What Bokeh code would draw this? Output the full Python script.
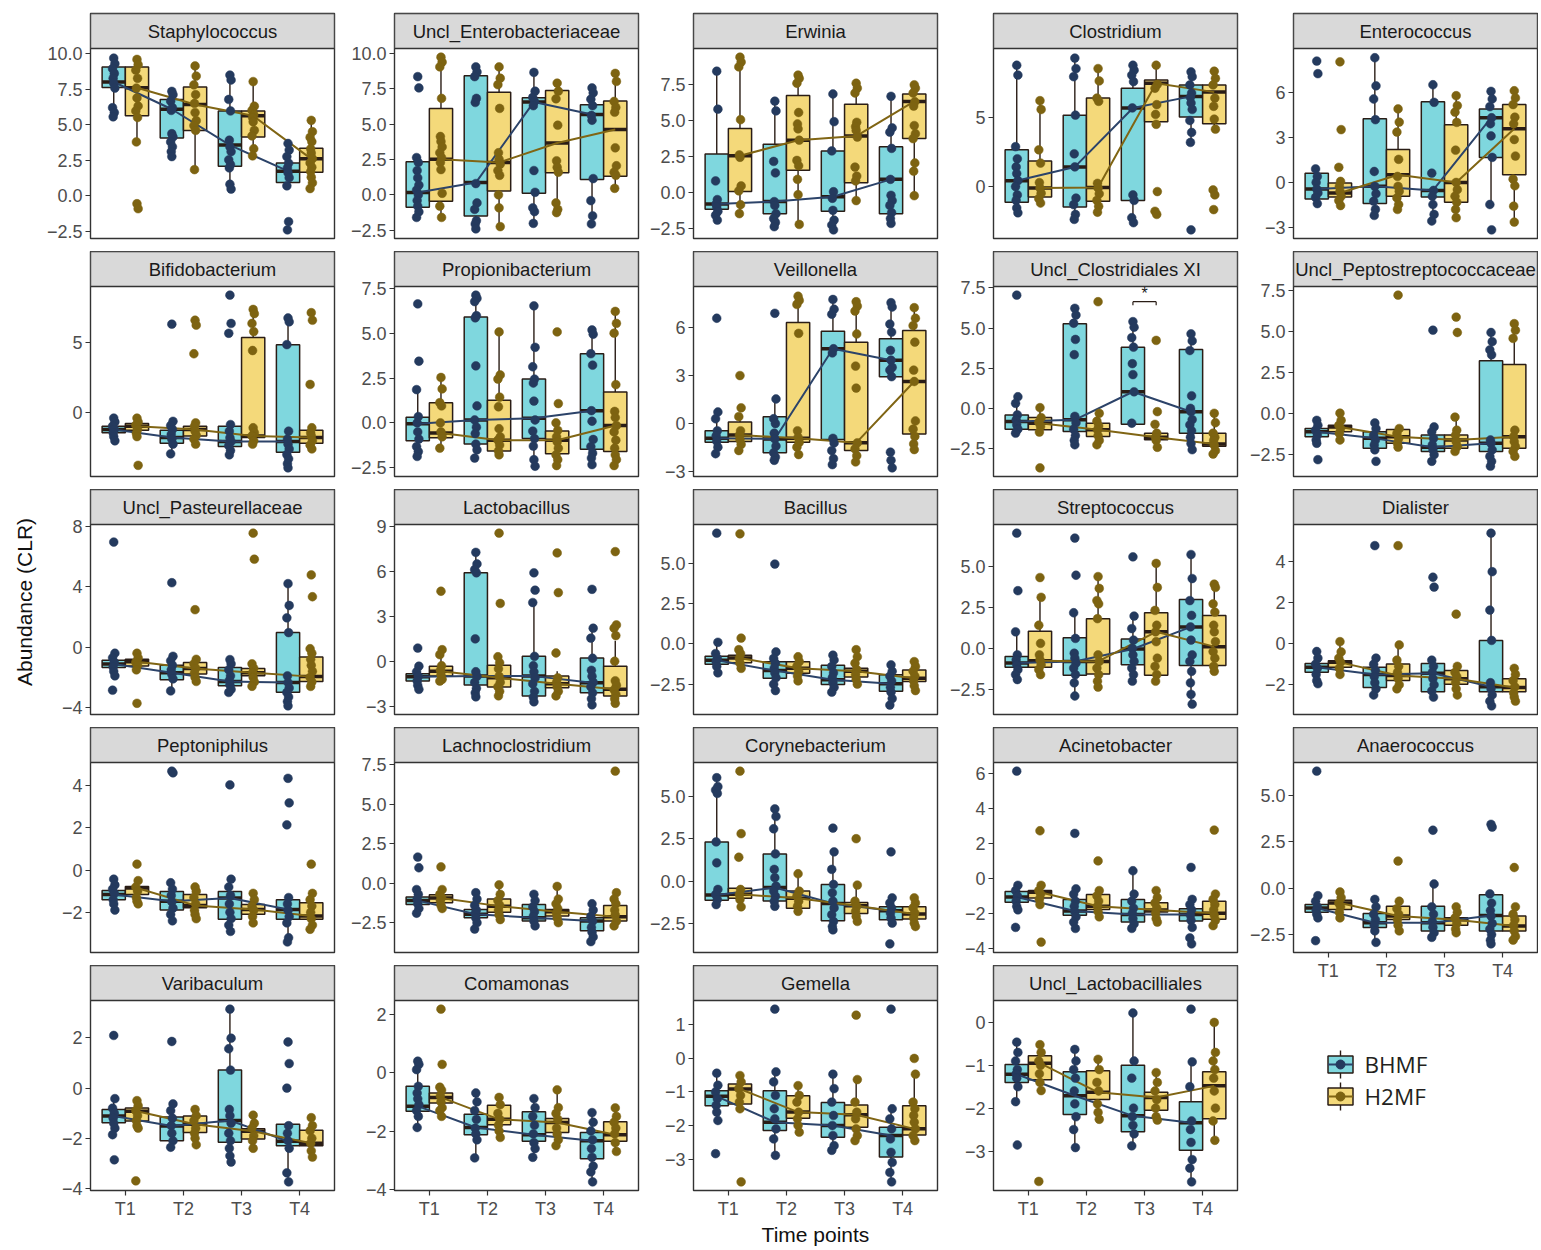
from bokeh.plotting import figure
from bokeh.models import Range1d, FixedTicker, ColumnDataSource, PrintfTickFormatter
from bokeh.layouts import row, column
from bokeh.embed import file_html
from bokeh.resources import INLINE
from bokeh.core.properties import value

TIMES = ["T1", "T2", "T3", "T4"]
GROUPS = ["BHMF", "H2MF"]
Y_TITLE = "Abundance (CLR)"
X_TITLE = "Time points"

# box stats per time point: (lower whisker, Q1, median, Q3, upper whisker); points per time point
staph_box_b = [(5.55, 7.61, 8.0, 9.06, 9.75), (2.75, 4.06, 6.08, 6.77, 7.57), (0.34, 2.06, 3.56, 5.96, 8.6), (0.69, 0.92, 1.72, 2.29, 3.67)]
staph_box_h = [(3.8, 5.62, 7.6, 9.06, 9.6), (1.83, 4.59, 6.42, 7.64, 9.17), (2.52, 4.13, 5.62, 5.96, 8.03), (0.34, 1.65, 2.59, 3.33, 5.39)]
staph_pts_b = [[9.68, 9.29, 8.94, 8.6, 8.26, 7.91, 7.57, 6.19, 5.85, 5.55], [7.34, 7.11, 6.65, 6.19, 6.0, 4.36, 4.13, 3.78, 3.44, 3.1, 2.75], [8.49, 8.14, 6.77, 5.96, 3.9, 3.44, 3.1, 2.52, 2.18, 1.95, 0.8, 0.46], [3.67, 3.21, 2.75, 2.29, 1.95, 1.61, 1.26, 0.69, -1.83, -2.41]]
staph_pts_h = [[9.59, 9.22, 8.83, 8.26, 7.57, 6.88, 6.31, 5.96, 5.5, 3.78, -0.57, -0.92], [9.13, 8.42, 7.8, 7.11, 6.49, 5.85, 5.28, 4.93, 4.59, 1.83], [8.03, 6.3, 6.0, 5.7, 5.5, 5.2, 4.6, 4.2, 3.3, 2.8], [5.3, 4.5, 4.1, 3.8, 3.3, 3.0, 2.6, 2.3, 2.0, 1.7, 1.3, 0.9, 0.5]]
staph_ticks = [-2.5, 0, 2.5, 5, 7.5, 10]

enterob_box_b = [(-1.6, -0.87, 0.16, 2.34, 2.64), (-2.48, -1.49, 0.87, 8.44, 9.06), (-2.06, 0.11, 6.58, 6.88, 8.67), (-2.18, 1.08, 5.69, 6.38, 7.68)]
enterob_box_h = [(-1.6, -0.46, 2.52, 6.12, 9.75), (-2.25, 0.28, 2.29, 7.27, 9.06), (-1.26, 1.56, 3.67, 7.39, 7.91), (0.34, 1.31, 4.63, 6.65, 8.72)]
enterob_pts_b = [[8.37, 7.57, 2.64, 2.29, 1.72, 1.2, 0.69, 0.34, 0.0, -0.4, -0.8, -1.2, -1.6], [9.06, 8.7, 8.37, 6.83, 6.54, 0.8, -0.57, -1.03, -1.83, -2.06, -2.41], [8.67, 7.34, 6.9, 6.6, 6.31, 1.72, 0.18, -0.92, -1.19, -2.02], [7.57, 7.22, 6.77, 6.31, 5.62, 5.28, 1.15, -0.41, -1.49, -2.06]]
enterob_pts_h = [[9.75, 9.4, 9.06, 6.83, 4.13, 3.78, 3.39, 2.98, 2.64, 2.29, 1.79, 0.11, -0.8, -1.6], [9.06, 8.26, 7.8, 6.12, 2.98, 2.52, 2.18, 1.72, 1.38, 0.0, -0.92, -2.25], [7.91, 7.34, 6.8, 4.93, 2.41, 1.95, 1.6, -0.57, -1.03, -1.26], [8.6, 8.03, 6.61, 6.19, 5.85, 3.33, 2.06, 1.6, 1.38, 0.46]]
enterob_ticks = [-2.5, 0, 2.5, 5, 7.5, 10]

erwinia_box_b = [(-1.93, -1.18, -0.8, 2.68, 8.45), (-2.5, -1.48, -0.64, 3.36, 6.55), (-2.61, -1.32, -0.3, 2.89, 6.93), (-2.27, -1.48, 0.91, 3.18, 6.93)]
erwinia_box_h = [(-1.59, 0.07, 2.55, 4.45, 9.43), (-2.16, 1.55, 3.64, 6.75, 8.23), (-0.8, 0.68, 3.93, 6.14, 7.77), (-0.3, 3.75, 6.34, 6.86, 7.61)]
erwinia_pts_b = [[8.45, 5.8, 0.8, -0.5, -0.8, -1.02, -1.32, -1.59, -1.93], [6.36, 5.68, 2.16, 1.36, -0.64, -0.91, -1.48, -1.82, -2.09, -2.39], [6.86, 4.93, 2.89, 0.05, -0.41, -1.25, -1.93, -2.27, -2.61], [6.7, 4.5, 4.2, 3.07, 0.91, -0.2, -0.57, -0.91, -1.41, -1.82, -2.16]]
erwinia_pts_h = [[9.43, 9.09, 8.75, 5.07, 2.61, 2.45, 0.45, 0.11, -0.86, -1.48], [8.18, 7.95, 7.61, 5.57, 4.77, 4.43, 3.64, 2.23, 1.86, 0.91, -0.16, -2.23], [7.61, 7.27, 6.93, 4.89, 4.59, 4.32, 3.86, 1.77, 1.14, 0.8, -0.57], [7.5, 7.27, 6.93, 6.32, 6.02, 4.66, 4.09, 3.75, 2.05, 1.48, -0.23]]
erwinia_ticks = [-2.5, 0, 2.5, 5, 7.5]

clostr_box_b = [(-1.9, -1.14, 0.43, 2.67, 8.86), (-2.5, -1.48, 1.43, 5.19, 9.4), (-2.62, -1.0, 5.71, 7.14, 8.86), (3.21, 5.05, 6.55, 7.38, 8.33)]
clostr_box_h = [(-1.31, -0.76, -0.1, 1.86, 6.31), (-1.9, -1.07, -0.07, 6.43, 8.57), (4.52, 4.71, 7.5, 7.74, 8.81), (4.1, 4.57, 6.86, 7.38, 8.38)]
clostr_pts_b = [[8.81, 8.1, 2.9, 2.02, 1.43, 0.95, 0.43, 0.0, -0.6, -1.0, -1.55, -1.9], [9.33, 8.57, 7.98, 5.19, 2.38, 1.43, -0.83, -1.31, -2.02, -2.38], [8.81, 8.45, 8.1, 7.62, 5.71, -0.6, -1.0, -2.26, -2.62], [8.33, 7.98, 7.38, 6.79, 6.48, 6.07, 5.6, 4.8, 3.93, 3.21, -3.14]]
clostr_pts_h = [[6.24, 5.6, 2.67, 1.71, 0.29, -0.1, -0.48, -0.88, -1.19], [8.57, 7.67, 6.43, 6.19, 0.24, -0.1, -0.52, -1.0, -1.43, -1.86], [8.81, 7.43, 7.14, 5.95, 5.24, 4.52, -0.36, -1.79, -2.02], [8.38, 7.86, 7.38, 6.43, 5.83, 4.9, 4.17, -0.24, -0.6, -1.67]]
clostr_ticks = [0, 5]

enteroc_box_b = [(-1.47, -1.1, -0.44, 0.62, 0.95), (-2.42, -1.41, -0.26, 4.24, 8.35), (-2.57, -0.97, -0.53, 5.38, 6.55), (-1.47, 1.67, 4.31, 4.9, 6.11)]
enteroc_box_h = [(-1.54, -0.97, -0.7, -0.04, 0.07), (-1.8, -0.92, 0.51, 2.2, 5.01), (-2.57, -1.32, 0.0, 3.85, 5.89), (-2.68, 0.51, 3.58, 5.19, 6.11)]
enteroc_pts_b = [[8.09, 7.25, 0.9, 0.4, 0.0, -0.44, -0.7, -1.0, -1.41], [8.31, 6.44, 5.56, 4.18, 0.73, -0.26, -0.75, -1.25, -1.8, -2.2], [6.51, 5.34, 0.62, -0.53, -0.92, -1.47, -2.13, -2.57], [6.07, 5.56, 5.05, 4.31, 3.91, 3.1, 1.67, -1.47, -3.16]]
enteroc_pts_h = [[8.04, 3.52, 1.01, 0.07, -0.26, -0.59, -0.92, -1.21, -1.54], [4.9, 4.02, 3.36, 1.54, 0.4, -0.26, -0.59, -1.03, -1.47, -1.8], [5.78, 5.12, 4.68, 4.0, 2.15, 0.0, -0.48, -0.92, -1.32, -1.8, -2.35], [6.11, 5.63, 5.19, 4.35, 3.91, 2.86, 1.76, 0.22, -0.22, -1.58, -2.64]]
enteroc_ticks = [-3, 0, 3, 6]

bifido_box_b = [(-2.02, -1.44, -1.21, -0.98, -0.4), (-2.84, -2.19, -1.79, -1.26, -0.51), (-3.07, -2.42, -2.07, -0.98, -0.86), (-3.95, -2.84, -2.07, 4.84, 6.81)]
bifido_box_h = [(-1.67, -1.26, -0.98, -0.79, -0.4), (-2.26, -1.67, -1.21, -0.98, -0.74), (-2.37, -1.79, -1.67, 5.35, 7.4), (-2.6, -2.19, -1.79, -1.26, -1.09)]
bifido_pts_b = [[-0.4, -0.67, -0.98, -1.21, -1.44, -1.72, -2.02], [6.3, -0.63, -0.93, -1.21, -1.56, -1.91, -2.26, -2.95], [8.37, 6.35, 5.65, -0.86, -1.33, -1.8, -2.07, -2.37, -2.72, -3.02], [6.74, 6.47, 4.84, -1.33, -1.9, -2.26, -2.6, -3.0, -3.3, -3.65, -3.95]]
bifido_pts_h = [[-0.4, -0.67, -0.9, -1.21, -1.49, -1.72, -3.77], [6.58, 6.23, 4.19, -0.74, -0.98, -1.33, -1.63, -1.91, -2.26], [7.35, 7.05, 6.35, 5.77, 4.42, -1.09, -1.44, -1.67, -2.02, -2.26], [7.12, 6.58, 2.0, -1.09, -1.44, -1.67, -2.02, -2.33, -2.6]]
bifido_ticks = [0, 5]

propioni_box_b = [(-1.88, -1.0, -0.05, 0.31, 1.86), (-1.97, -1.19, 0.16, 5.93, 7.15), (-2.52, -0.88, 0.26, 2.45, 6.55), (-2.34, -1.48, 0.68, 3.87, 5.24)]
propioni_box_h = [(-1.42, -0.84, -0.57, 1.13, 2.54), (-1.88, -1.57, -0.97, 1.26, 5.09), (-2.52, -1.73, -0.97, -0.46, 0.04), (-2.43, -1.61, -0.15, 1.73, 6.24)]
propioni_pts_b = [[6.66, 3.45, 1.86, 0.35, 0.0, -0.51, -0.91, -1.33, -1.61, -1.88], [7.15, 6.97, 6.79, 6.0, 5.88, 3.19, 0.95, 0.16, -0.24, -0.6, -1.19, -1.51, -1.97], [6.55, 4.23, 3.14, 2.45, 2.23, 1.22, 0.16, -0.46, -0.88, -1.3, -2.06, -2.43], [5.2, 4.96, 3.87, 3.23, 0.68, 0.09, -0.93, -1.33, -1.7, -1.97, -2.34]]
propioni_pts_h = [[2.54, 1.9, 1.13, 0.95, 0.0, -0.51, -0.78, -1.42], [5.09, 2.68, 2.45, 1.44, 0.9, -0.33, -0.78, -0.97, -1.24, -1.57, -1.79], [5.09, 1.08, 0.0, -0.42, -0.78, -1.06, -1.42, -1.79, -2.06, -2.39], [6.24, 5.57, 5.02, 2.14, 0.64, 0.3, -0.15, -0.51, -0.97, -1.42, -1.79, -2.06, -2.39]]
propioni_ticks = [-2.5, 0, 2.5, 5, 7.5]

veill_box_b = [(-1.88, -1.17, -0.92, -0.45, 0.78), (-2.29, -1.82, -0.96, 0.43, 1.53), (-2.6, -1.0, 4.66, 5.75, 7.73), (2.92, 2.92, 3.95, 5.28, 7.53)]
veill_box_h = [(-1.78, -1.12, -0.72, 0.1, 0.47), (-1.98, -1.17, -0.92, 6.3, 8.0), (-2.39, -1.68, -1.2, 5.07, 7.59), (-1.62, -0.65, 2.62, 5.79, 7.22)]
veill_pts_b = [[6.56, 0.72, 0.3, -0.45, -0.76, -1.1, -1.47, -1.88], [6.87, 1.53, 0.3, 0.0, -0.6, -0.96, -1.4, -1.82, -2.09, -2.29], [7.73, 7.12, 6.81, 4.66, 4.4, -0.92, -1.21, -1.68, -2.19, -2.56], [7.53, 7.26, 6.2, 5.7, 4.56, 3.95, 3.5, 3.33, 2.92, -1.78, -2.29, -2.76]]
veill_pts_h = [[2.99, 0.98, 0.43, -0.45, -0.72, -1.0, -1.3, -1.68], [7.93, 7.67, 7.42, 5.62, -0.45, -0.86, -1.17, -1.47, -1.93], [7.59, 7.32, 7.01, 5.58, 3.58, 2.21, -1.2, -1.58, -2.0, -2.39], [7.22, 6.56, 6.1, 5.07, 3.33, 2.62, 0.16, -0.35, -0.8, -1.27, -1.62]]
veill_ticks = [-3, 0, 3, 6]

clostxi_box_b = [(-1.65, -1.3, -0.82, -0.41, 0.72), (-2.27, -1.44, -0.72, 5.26, 6.29), (-0.99, -0.99, 1.03, 3.81, 5.46), (-2.68, -1.55, -0.21, 3.67, 4.64)]
clostxi_box_h = [(-1.55, -1.34, -0.93, -0.58, 0.1), (-2.27, -1.75, -1.34, -0.93, -0.31), (-2.1, -1.96, -1.81, -1.55, -1.4), (-2.89, -2.37, -2.23, -1.55, -0.31)]
clostxi_pts_b = [[7.05, 0.72, 0.31, -0.41, -0.72, -1.03, -1.3, -1.55], [6.23, 5.81, 5.3, 4.29, 3.34, -0.5, -0.9, -1.3, -1.7, -2.0, -2.27], [5.4, 5.05, 4.4, 3.81, 2.78, 2.1, 1.03, -0.93], [4.64, 4.2, 3.6, 0.78, 0.0, -0.21, -0.7, -1.03, -1.4, -1.8, -2.2, -2.58]]
clostxi_pts_h = [[0.04, -0.58, -0.87, -1.13, -1.48, -3.71], [6.64, -0.31, -0.8, -1.1, -1.34, -1.7, -2.0, -2.27], [4.23, -0.21, -1.0, -1.55, -1.81, -2.0, -2.43], [-0.31, -0.9, -1.55, -1.8, -2.0, -2.3, -2.64, -2.85]]
clostxi_ticks = [-2.5, 0, 2.5, 5, 7.5]

pepto_box_b = [(-1.8, -1.4, -1.1, -0.9, -0.3), (-2.2, -2.1, -1.5, -1.1, -0.56), (-3.0, -2.3, -2.04, -1.3, -0.8), (-3.3, -2.3, -1.8, 3.24, 4.96)]
pepto_box_h = [(-1.6, -1.1, -0.8, -0.7, 0.1), (-2.04, -1.8, -1.4, -0.96, -0.9), (-2.3, -2.1, -1.6, -1.3, -0.2), (-2.6, -2.1, -1.4, 3.0, 5.6)]
pepto_pts_b = [[-0.4, -0.7, -1.0, -1.3, -1.6, -1.8, -2.8], [-0.56, -0.9, -1.3, -1.6, -1.9, -2.2, -2.9], [5.1, -0.8, -1.1, -1.5, -1.9, -2.2, -2.5, -2.9], [4.96, 4.4, 3.9, 3.6, -1.6, -1.8, -2.2, -2.6, -2.9, -3.2]]
pepto_pts_h = [[0.04, -0.4, -0.7, -0.9, -1.2, -1.6], [7.24, -0.9, -1.2, -1.5, -1.8, -2.04], [5.9, 4.96, -0.2, -1.0, -1.3, -1.7, -2.0, -2.3], [5.5, 5.1, 4.6, -1.0, -1.4, -1.7, -2.0, -2.3, -2.6]]
pepto_ticks = [-2.5, 0, 2.5, 5, 7.5]

pasteur_box_b = [(-1.95, -1.34, -1.12, -0.86, -0.32), (-2.98, -2.16, -1.69, -1.19, -0.54), (-3.07, -2.55, -2.27, -1.34, -0.82), (-3.89, -2.98, -2.34, 0.97, 4.22)]
pasteur_box_h = [(-1.62, -1.25, -0.97, -0.8, -0.32), (-2.27, -1.77, -1.41, -1.02, -0.8), (-2.59, -1.9, -1.69, -1.41, -1.08), (-2.64, -2.27, -1.95, -0.65, 0.0)]
pasteur_pts_b = [[6.98, -0.4, -0.7, -1.0, -1.3, -1.6, -1.9, -2.85], [4.28, -0.6, -0.9, -1.2, -1.5, -1.8, -2.1, -2.9], [-0.82, -1.1, -1.5, -1.9, -2.2, -2.5, -2.8, -3.0], [4.22, 2.77, 1.95, 0.97, -1.9, -2.34, -2.7, -3.0, -3.3, -3.6, -3.89]]
pasteur_pts_h = [[-0.4, -0.7, -1.0, -1.2, -1.5, -3.72], [2.49, -0.8, -1.1, -1.4, -1.7, -2.0, -2.27], [7.57, 5.84, -1.1, -1.4, -1.7, -2.0, -2.3, -2.59], [4.8, 3.35, -0.1, -0.4, -0.8, -1.2, -1.6, -2.0, -2.3, -2.6]]
pasteur_ticks = [-4, 0, 4, 8]

lacto_box_b = [(-1.87, -1.32, -1.03, -0.84, -0.33), (-2.37, -1.58, -0.99, 5.89, 7.25), (-2.81, -2.31, -0.99, 0.33, 3.85), (-2.97, -2.09, -1.43, 0.22, 2.31)]
lacto_box_h = [(-1.32, -0.99, -0.66, -0.33, 0.44), (-2.37, -1.71, -1.1, -0.26, 0.33), (-2.31, -1.76, -1.5, -0.99, -0.66), (-2.86, -2.31, -1.87, -0.33, 1.36)]
lacto_pts_b = [[0.88, -0.33, -0.7, -1.0, -1.3, -1.6, -1.87], [7.25, 6.48, 6.1, 5.89, 1.49, -0.7, -1.0, -1.4, -1.8, -2.1, -2.37], [5.89, 4.73, 3.91, 0.33, -0.3, -0.7, -1.1, -1.5, -2.0, -2.4, -2.7], [4.79, 2.2, 1.54, 0.2, -0.6, -1.0, -1.4, -1.7, -2.1, -2.5, -2.9]]
lacto_pts_h = [[4.66, 0.77, 0.44, -0.3, -0.6, -0.9, -1.2, -1.32], [8.53, 3.85, 0.3, -0.1, -0.5, -1.0, -1.4, -1.7, -2.0, -2.3], [7.21, 4.57, 0.55, -1.1, -1.4, -1.7, -2.0, -2.31], [7.3, 2.42, 2.2, 1.71, 0.0, -1.3, -1.6, -1.9, -2.2, -2.5, -2.8]]
lacto_ticks = [-3, 0, 3, 6, 9]

bacillus_box_b = [(-1.86, -1.26, -1.01, -0.77, 0.1), (-2.94, -2.13, -1.66, -1.11, -0.51), (-3.04, -2.53, -2.23, -1.32, -0.71), (-3.85, -2.94, -2.47, -1.92, -1.32)]
bacillus_box_h = [(-1.52, -1.17, -0.87, -0.71, -0.36), (-2.43, -1.82, -1.52, -1.11, -0.71), (-2.53, -2.06, -1.7, -1.52, -0.36), (-2.94, -2.33, -2.13, -1.62, -1.01)]
bacillus_pts_b = [[6.88, 0.1, -0.6, -0.9, -1.1, -1.4, -1.8], [4.96, -0.5, -0.9, -1.2, -1.5, -1.8, -2.1, -2.5, -2.9], [-0.7, -1.0, -1.4, -1.8, -2.1, -2.4, -2.7, -3.0], [-1.3, -1.7, -2.0, -2.3, -2.7, -3.0, -3.4, -3.8]]
bacillus_pts_h = [[6.84, 0.36, -0.36, -0.6, -0.9, -1.2, -1.52], [-0.8, -1.1, -1.4, -1.7, -2.0, -2.3], [-0.36, -0.8, -1.2, -1.6, -1.9, -2.2, -2.5], [-1.1, -1.4, -1.7, -2.0, -2.3, -2.6, -2.9]]
bacillus_ticks = [-2.5, 0, 2.5, 5]

strepto_box_b = [(-1.9, -1.16, -0.9, -0.5, 1.0), (-2.9, -1.64, -0.8, 0.64, 2.2), (-2.1, -1.0, -0.04, 0.56, 2.0), (-3.5, -1.04, 1.3, 2.96, 5.8)]
strepto_box_h = [(-1.8, -1.16, -0.75, 1.04, 3.1), (-2.4, -1.56, -0.8, 1.8, 4.2), (-2.2, -1.64, 1.0, 2.16, 5.2), (-1.56, -1.04, 0.1, 2.0, 4.04)]
strepto_pts_b = [[7.0, 3.5, 1.0, -0.4, -0.7, -1.0, -1.3, -1.6, -1.9], [6.7, 4.44, 2.16, 0.6, -0.3, -0.6, -0.9, -1.2, -1.6, -2.1, -2.9], [5.56, 1.96, 1.2, 0.5, 0.0, -0.4, -0.8, -1.2, -1.6, -2.0], [5.7, 4.24, 2.9, 2.0, 1.3, 0.5, -0.4, -0.8, -1.4, -2.1, -2.8, -3.4]]
strepto_pts_h = [[4.3, 3.1, 1.4, 0.3, -0.4, -0.7, -1.0, -1.3, -1.6], [4.36, 3.64, 2.9, 2.7, 1.8, -0.4, -0.8, -1.2, -1.6, -2.0, -2.36], [5.16, 3.7, 2.3, 1.4, 1.0, 0.4, -0.6, -1.1, -1.6, -2.0], [3.9, 3.7, 2.7, 2.2, 1.4, 1.0, 0.4, -0.2, -0.6, -1.1, -1.4]]
strepto_ticks = [-2.5, 0, 2.5, 5]

dialister_box_b = [(-1.95, -1.39, -1.15, -0.96, -0.38), (-2.5, -2.14, -1.5, -1.15, -0.67), (-2.66, -2.34, -1.44, -0.96, -0.8), (-3.03, -2.34, -2.1, 0.16, 5.39)]
dialister_box_h = [(-1.63, -1.15, -0.91, -0.83, 0.05), (-2.26, -1.79, -1.55, -0.99, -0.06), (-2.5, -1.98, -1.71, -1.31, -1.1), (-2.82, -2.34, -2.14, -1.71, -1.15)]
dialister_pts_b = [[-0.38, -0.7, -1.0, -1.2, -1.5, -1.8, -1.95], [4.78, -0.7, -1.0, -1.3, -1.6, -1.9, -2.2, -2.5], [3.24, 2.76, -0.8, -1.1, -1.4, -1.7, -2.0, -2.3, -2.6], [5.39, 3.51, 1.64, 0.16, -1.9, -2.2, -2.5, -2.8, -3.03]]
dialister_pts_h = [[0.1, -0.4, -0.7, -0.9, -1.2, -1.5], [4.78, -0.06, -0.8, -1.1, -1.4, -1.7, -2.0, -2.2], [1.44, -1.1, -1.4, -1.6, -1.9, -2.2, -2.5], [-1.2, -1.5, -1.8, -2.1, -2.4, -2.6, -2.8]]
dialister_ticks = [-2, 0, 2, 4]

peptoniph_box_b = [(-1.89, -1.4, -1.16, -0.96, -0.43), (-2.4, -1.89, -1.47, -1.01, -0.54), (-2.95, -2.33, -1.32, -1.01, -0.43), (-3.49, -2.33, -1.86, -1.4, -1.27)]
peptoniph_box_h = [(-1.6, -1.16, -0.85, -0.78, -0.5), (-2.29, -1.78, -1.67, -1.16, -0.78), (-2.56, -2.09, -1.86, -1.63, -1.05), (-2.87, -2.33, -2.17, -1.55, -1.09)]
peptoniph_pts_b = [[-0.43, -0.7, -0.9, -1.1, -1.4, -1.6, -1.89], [4.68, 4.6, -0.6, -0.9, -1.2, -1.5, -1.8, -2.1, -2.4], [4.03, -0.43, -0.8, -1.2, -1.6, -2.0, -2.3, -2.6, -2.9], [4.34, 3.18, 2.14, -1.3, -1.6, -1.9, -2.2, -2.5, -3.2, -3.4]]
peptoniph_pts_h = [[0.28, -0.5, -0.8, -1.0, -1.3, -1.47, -1.6], [-0.8, -1.0, -1.3, -1.6, -1.9, -2.1, -2.3], [-1.1, -1.4, -1.7, -1.9, -2.2, -2.5], [0.28, -1.1, -1.4, -1.7, -2.0, -2.3, -2.6, -2.8]]
peptoniph_ticks = [-2, 0, 2, 4]

lachno_box_b = [(-1.97, -1.35, -1.1, -0.87, -0.31), (-2.9, -2.18, -1.97, -1.66, -0.58), (-2.8, -2.39, -2.18, -1.35, -0.73), (-3.84, -3.01, -2.39, -2.18, -1.29)]
lachno_box_h = [(-1.6, -1.24, -0.93, -0.73, -0.31), (-2.39, -1.83, -1.45, -1.0, -0.1), (-2.6, -2.07, -1.8, -1.66, -0.21), (-2.9, -2.39, -2.12, -1.41, -0.58)]
lachno_pts_b = [[1.66, 0.98, -0.4, -0.7, -1.0, -1.3, -1.6, -1.9], [-0.6, -1.0, -1.4, -1.7, -1.9, -2.2, -2.5, -2.9], [-0.7, -1.1, -1.5, -1.8, -2.1, -2.4, -2.7], [-1.3, -1.7, -2.1, -2.4, -2.8, -3.1, -3.4, -3.7]]
lachno_pts_h = [[1.04, -0.4, -0.7, -0.9, -1.1, -1.4, -1.6], [-0.1, -0.7, -1.1, -1.4, -1.7, -2.0, -2.3], [-0.2, -1.0, -1.3, -1.6, -1.9, -2.2, -2.5], [7.1, -0.6, -1.0, -1.3, -1.7, -2.0, -2.4, -2.7]]
lachno_ticks = [-2.5, 0, 2.5, 5, 7.5]

coryne_box_b = [(-1.57, -1.14, -0.83, 2.32, 6.13), (-1.67, -1.18, -0.39, 1.61, 4.28), (-2.95, -2.36, -1.34, -0.2, 1.77), (-2.55, -2.3, -1.77, -1.53, -0.88)]
coryne_box_h = [(-1.53, -1.02, -0.79, -0.43, -0.3), (-1.96, -1.61, -1.02, -0.59, 0.49), (-2.4, -1.93, -1.47, -1.28, -0.24), (-2.71, -2.26, -1.96, -1.53, -0.98)]
coryne_pts_b = [[6.13, 5.6, 5.4, 5.2, 2.32, 1.08, -0.5, -0.8, -1.1, -1.4], [4.28, 3.83, 3.1, 1.61, 0.69, 0.2, -0.3, -0.6, -0.9, -1.2, -1.5], [3.14, 1.73, 0.69, -0.2, -0.7, -1.2, -1.6, -2.0, -2.4, -2.7, -2.9], [1.73, -1.0, -1.3, -1.6, -1.9, -2.2, -2.5, -3.73]]
coryne_pts_h = [[6.52, 2.81, 1.41, -0.5, -0.8, -1.1, -1.53], [0.43, -0.6, -0.9, -1.2, -1.5, -1.8], [2.51, -0.24, -1.2, -1.5, -1.8, -2.1, -2.4], [-1.0, -1.3, -1.6, -1.9, -2.2, -2.5, -2.7]]
coryne_ticks = [-2.5, 0, 2.5, 5]

acineto_box_b = [(-1.78, -1.36, -1.07, -0.75, -0.32), (-2.86, -2.11, -1.87, -1.21, -0.56), (-2.86, -2.49, -2.06, -1.21, 0.43), (-2.8, -2.43, -2.06, -1.74, -1.21)]
acineto_box_h = [(-1.5, -1.12, -0.8, -0.69, -0.4), (-2.24, -1.78, -1.59, -0.93, -0.65), (-2.49, -1.93, -1.81, -1.4, -0.69), (-2.9, -2.34, -2.0, -1.31, -0.93)]
acineto_pts_b = [[6.11, -0.4, -0.7, -1.0, -1.3, -1.6, -1.8, -2.8], [2.56, -0.6, -0.9, -1.3, -1.6, -1.9, -2.2, -2.5, -2.86], [0.43, -0.9, -1.3, -1.7, -2.0, -2.3, -2.6, -2.86], [0.62, -1.2, -1.5, -1.8, -2.1, -2.4, -2.8, -3.4, -3.74]]
acineto_pts_h = [[2.71, -0.4, -0.7, -0.9, -1.2, -1.5, -3.64], [0.99, -0.7, -1.0, -1.3, -1.6, -1.9, -2.2], [-0.7, -1.1, -1.4, -1.7, -2.0, -2.3, -2.5], [2.75, -0.9, -1.2, -1.5, -1.8, -2.1, -2.4, -2.7]]
acineto_ticks = [-4, -2, 0, 2, 4, 6]

anaero_box_b = [(-1.59, -1.29, -1.06, -0.88, -0.35), (-2.92, -2.12, -1.86, -1.36, -0.58), (-2.65, -2.3, -1.86, -0.97, 0.35), (-3.0, -2.3, -1.47, -0.35, -0.27)]
anaero_box_h = [(-1.59, -1.15, -0.8, -0.65, -0.12), (-2.3, -1.68, -1.5, -0.97, -0.71), (-2.48, -2.0, -1.7, -1.59, -0.97), (-2.83, -2.3, -2.04, -1.5, -1.01)]
anaero_pts_b = [[6.32, -0.4, -0.7, -1.0, -1.2, -1.4, -1.6, -2.83], [-0.6, -1.0, -1.4, -1.7, -2.0, -2.3, -2.92], [3.13, 0.23, -1.0, -1.4, -1.8, -2.1, -2.4, -2.65], [3.45, 3.3, -0.3, -0.8, -1.2, -1.5, -1.9, -2.2, -2.5, -2.8, -3.0]]
anaero_pts_h = [[-0.2, -0.5, -0.8, -1.0, -1.3, -1.6], [1.47, -0.7, -1.1, -1.4, -1.7, -2.0, -2.3], [-1.0, -1.3, -1.6, -1.9, -2.2, -2.4], [1.12, -1.0, -1.4, -1.7, -2.0, -2.3, -2.6, -2.8]]
anaero_ticks = [-2.5, 0, 2.5, 5]

varib_box_b = [(-1.86, -1.38, -1.11, -0.85, -0.42), (-2.36, -2.1, -1.51, -1.15, -0.63), (-2.95, -2.16, -1.29, 0.72, 3.15), (-3.74, -2.3, -2.12, -1.44, -1.44)]
varib_box_h = [(-1.6, -1.31, -0.92, -0.79, -0.5), (-2.26, -1.77, -1.44, -1.11, -0.85), (-2.49, -2.03, -1.72, -1.62, -1.08), (-2.75, -2.3, -2.2, -1.68, -1.18)]
varib_pts_b = [[2.1, -0.42, -0.8, -1.0, -1.2, -1.4, -1.6, -1.86, -2.86], [1.86, -0.63, -0.9, -1.2, -1.5, -1.8, -2.1, -2.36], [3.15, 1.99, 1.57, 0.72, -0.85, -1.1, -1.4, -1.8, -2.1, -2.4, -2.7, -2.95], [1.84, 0.98, 0.0, -1.5, -1.8, -2.1, -2.4, -3.38, -3.74]]
varib_pts_h = [[-0.5, -0.7, -0.9, -1.1, -1.3, -1.5, -1.6, -3.7], [-0.85, -1.1, -1.3, -1.6, -1.8, -2.0, -2.26], [-1.08, -1.4, -1.6, -1.9, -2.1, -2.4], [-1.18, -1.5, -1.7, -2.0, -2.2, -2.5, -2.75]]
varib_ticks = [-4, -2, 0, 2]

comam_box_b = [(-1.88, -1.32, -1.15, -0.47, 0.39), (-2.92, -2.13, -1.88, -1.43, -0.7), (-2.9, -2.35, -2.13, -1.34, -0.89), (-3.74, -2.95, -2.33, -2.05, -1.37)]
comam_box_h = [(-1.5, -1.04, -0.85, -0.7, -0.5), (-2.22, -1.79, -1.6, -1.12, -0.85), (-2.5, -2.05, -1.71, -1.57, -0.59), (-2.78, -2.35, -2.13, -1.68, -1.21)]
comam_pts_b = [[0.39, 0.28, 0.1, -0.47, -0.7, -0.9, -1.1, -1.3, -1.5, -1.88], [-0.7, -1.0, -1.3, -1.6, -1.9, -2.1, -2.3, -2.92], [-0.89, -1.2, -1.5, -1.8, -2.1, -2.4, -2.6, -2.9], [-1.37, -1.7, -2.0, -2.3, -2.6, -2.9, -3.2, -3.4, -3.74]]
comam_pts_h = [[2.17, 0.28, -0.5, -0.6, -0.8, -1.0, -1.2, -1.3, -1.5], [-0.85, -1.1, -1.4, -1.6, -1.8, -2.0, -2.22], [-0.59, -1.2, -1.4, -1.6, -1.9, -2.1, -2.3, -2.5], [-1.21, -1.5, -1.7, -1.9, -2.1, -2.4, -2.7]]
comam_ticks = [-4, -2, 0, 2]

gemella_box_b = [(-1.85, -1.41, -1.13, -0.96, -0.44), (-2.89, -2.15, -1.9, -0.96, -0.4), (-2.74, -2.35, -2.0, -1.31, -0.47), (-3.68, -2.94, -2.3, -2.05, -1.46)]
gemella_box_h = [(-1.5, -1.36, -0.91, -0.76, -0.51), (-2.2, -1.78, -1.6, -1.11, -0.81), (-2.45, -2.05, -1.68, -1.39, -0.63), (-2.54, -2.28, -2.1, -1.41, -0.47)]
gemella_pts_b = [[-0.44, -0.8, -1.0, -1.2, -1.4, -1.6, -1.85, -2.84], [1.47, -0.4, -0.7, -1.1, -1.5, -1.8, -2.1, -2.4, -2.89], [-0.47, -0.9, -1.3, -1.7, -2.0, -2.3, -2.6, -2.74], [1.47, -1.5, -1.8, -2.1, -2.4, -2.8, -3.1, -3.4, -3.68]]
gemella_pts_h = [[-0.51, -0.7, -0.9, -1.1, -1.3, -1.5, -3.68], [-0.81, -1.1, -1.3, -1.6, -1.8, -2.0, -2.2], [1.29, -0.63, -1.3, -1.6, -1.8, -2.1, -2.3, -2.45], [0.0, -0.47, -1.3, -1.5, -1.7, -1.9, -2.1, -2.3, -2.45]]
gemella_ticks = [-3, -2, -1, 0, 1]

lactob_box_b = [(-1.85, -1.4, -1.21, -0.98, -0.46), (-2.92, -2.15, -1.71, -1.15, -0.63), (-2.88, -2.55, -2.18, -1.0, 0.22), (-3.72, -2.98, -2.34, -1.85, -0.92)]
lactob_box_h = [(-1.59, -1.34, -0.95, -0.78, -0.52), (-2.26, -1.8, -1.63, -1.13, -0.86), (-2.28, -2.05, -1.75, -1.63, -1.17), (-2.75, -2.25, -1.48, -1.15, 0.0)]
lactob_pts_b = [[-0.46, -0.7, -0.9, -1.1, -1.2, -1.3, -1.5, -1.85, -2.86], [-0.63, -0.9, -1.1, -1.3, -1.6, -1.9, -2.2, -2.5, -2.92], [0.22, -0.9, -1.3, -2.0, -2.2, -2.4, -2.6, -2.88], [0.31, -0.92, -1.5, -2.3, -2.5, -2.8, -3.2, -3.4, -3.72]]
lactob_pts_h = [[-0.52, -0.7, -0.9, -1.0, -1.2, -1.4, -1.59, -3.71], [-0.86, -1.1, -1.4, -1.6, -1.9, -2.1, -2.26], [-1.17, -1.4, -1.6, -1.8, -2.0, -2.2, -2.28], [0.0, -0.7, -0.9, -1.1, -1.3, -1.6, -2.0, -2.3, -2.75]]
lactob_ticks = [-3, -2, -1, 0]

# significance annotation: (panel, time index, bracket height, label)
SIGNIF = [("Uncl_Clostridiales XI", 3, 6.64, "*")]

PANELS = [
    ("Staphylococcus", staph_box_b, staph_box_h, staph_pts_b, staph_pts_h, staph_ticks),
    ("Uncl_Enterobacteriaceae", enterob_box_b, enterob_box_h, enterob_pts_b, enterob_pts_h, enterob_ticks),
    ("Erwinia", erwinia_box_b, erwinia_box_h, erwinia_pts_b, erwinia_pts_h, erwinia_ticks),
    ("Clostridium", clostr_box_b, clostr_box_h, clostr_pts_b, clostr_pts_h, clostr_ticks),
    ("Enterococcus", enteroc_box_b, enteroc_box_h, enteroc_pts_b, enteroc_pts_h, enteroc_ticks),
    ("Bifidobacterium", bifido_box_b, bifido_box_h, bifido_pts_b, bifido_pts_h, bifido_ticks),
    ("Propionibacterium", propioni_box_b, propioni_box_h, propioni_pts_b, propioni_pts_h, propioni_ticks),
    ("Veillonella", veill_box_b, veill_box_h, veill_pts_b, veill_pts_h, veill_ticks),
    ("Uncl_Clostridiales XI", clostxi_box_b, clostxi_box_h, clostxi_pts_b, clostxi_pts_h, clostxi_ticks),
    ("Uncl_Peptostreptococcaceae", pepto_box_b, pepto_box_h, pepto_pts_b, pepto_pts_h, pepto_ticks),
    ("Uncl_Pasteurellaceae", pasteur_box_b, pasteur_box_h, pasteur_pts_b, pasteur_pts_h, pasteur_ticks),
    ("Lactobacillus", lacto_box_b, lacto_box_h, lacto_pts_b, lacto_pts_h, lacto_ticks),
    ("Bacillus", bacillus_box_b, bacillus_box_h, bacillus_pts_b, bacillus_pts_h, bacillus_ticks),
    ("Streptococcus", strepto_box_b, strepto_box_h, strepto_pts_b, strepto_pts_h, strepto_ticks),
    ("Dialister", dialister_box_b, dialister_box_h, dialister_pts_b, dialister_pts_h, dialister_ticks),
    ("Peptoniphilus", peptoniph_box_b, peptoniph_box_h, peptoniph_pts_b, peptoniph_pts_h, peptoniph_ticks),
    ("Lachnoclostridium", lachno_box_b, lachno_box_h, lachno_pts_b, lachno_pts_h, lachno_ticks),
    ("Corynebacterium", coryne_box_b, coryne_box_h, coryne_pts_b, coryne_pts_h, coryne_ticks),
    ("Acinetobacter", acineto_box_b, acineto_box_h, acineto_pts_b, acineto_pts_h, acineto_ticks),
    ("Anaerococcus", anaero_box_b, anaero_box_h, anaero_pts_b, anaero_pts_h, anaero_ticks),
    ("Varibaculum", varib_box_b, varib_box_h, varib_pts_b, varib_pts_h, varib_ticks),
    ("Comamonas", comam_box_b, comam_box_h, comam_pts_b, comam_pts_h, comam_ticks),
    ("Gemella", gemella_box_b, gemella_box_h, gemella_pts_b, gemella_pts_h, gemella_ticks),
    ("Uncl_Lactobacilliales", lactob_box_b, lactob_box_h, lactob_pts_b, lactob_pts_h, lactob_ticks),
]

# ---------------- style ----------------
FILL = ["#7fd7de", "#f4d97a"]
DOT = ["#243a5e", "#7d6311"]
TREND = ["#2c4369", "#806514"]
EDGE = "#2a1d16"
BORDER = "#333333"
STRIP_FILL = "#d9d9d9"
FONT = "Liberation Sans"
TICK_SIZE = "18px"
W, STRIP_H, FRAME_H, GAP, TOP = 244, 35, 190, 13, 13
COL_L = [90, 47, 47, 47, 47]
COL_R = [13, 8, 9, 9, 1]
DODGE = [-0.2, 0.2]
BOX_W = 0.4
JIT = [0.0, 0.02, -0.02, 0.01, -0.01]
NCOL = 5
LAST_ROW = 4


def tick_label(t, dec):
    s = f"{t:.1f}" if dec else f"{int(round(t))}"
    return s.replace("-", "\u2212")


def style_axis(ax):
    ax.minor_tick_line_color = None
    ax.major_tick_in = 0
    ax.major_tick_out = 5
    ax.major_tick_line_color = BORDER
    ax.major_tick_line_width = 1.2
    ax.axis_line_color = None
    ax.major_label_text_font = FONT
    ax.major_label_text_font_size = TICK_SIZE
    ax.major_label_text_color = "#4d4d4d"
    ax.major_label_standoff = 3
    ax.axis_label_text_font = FONT
    ax.axis_label_text_font_style = "normal"
    ax.axis_label_text_color = "#111111"
    ax.axis_label_text_font_size = "21px"


def make_panel(idx, spec):
    name, box_b, box_h, pts_b, pts_h, ticks = spec
    r, c = divmod(idx, NCOL)
    has_x = (r == LAST_ROW) or (idx + NCOL >= len(PANELS))
    boxes = [box_b, box_h]
    pts = [pts_b, pts_h]
    sig = [s for s in SIGNIF if s[0] == name]
    vals = [v for grp in pts for tp in grp for v in tp] + [b[0] for grp in boxes for b in grp] + [b[4] for grp in boxes for b in grp]
    vals += [s[2] + 0.3 for s in sig]
    lo, hi = min(vals), max(vals)
    pad = 0.05 * (hi - lo)
    y0, y1 = lo - pad, hi + pad
    # strip (facet label) sits on top of the panel, inside the same canvas
    ys = y1 + (y1 - y0) * STRIP_H / FRAME_H
    p = figure(frame_width=W, frame_height=FRAME_H + STRIP_H,
               x_range=Range1d(0.4, 4.6), y_range=Range1d(y0, ys),
               min_border_left=COL_L[c], min_border_right=COL_R[c],
               min_border_top=(TOP if r == 0 else 0),
               min_border_bottom=(0 if has_x else GAP),
               toolbar_location=None, output_backend="svg",
               x_axis_location=("below" if has_x else None), y_axis_location="left",
               title_location=None)
    p.grid.visible = False
    p.background_fill_color = "white"
    p.border_fill_color = "white"
    p.outline_line_color = BORDER
    p.outline_line_width = 1.4

    ya = p.yaxis[0]
    style_axis(ya)
    dec = any(abs(t - round(t)) > 1e-9 for t in ticks)
    ya.ticker = FixedTicker(ticks=ticks, minor_ticks=[])
    ya.formatter = PrintfTickFormatter(format=("%.1f" if dec else "%d"))
    ya.major_label_overrides = {t: tick_label(t, dec) for t in ticks}
    if name == "Uncl_Pasteurellaceae":
        ya.axis_label = Y_TITLE
        ya.axis_label_standoff = 23
    if has_x:
        xa = p.xaxis[0]
        style_axis(xa)
        xa.ticker = FixedTicker(ticks=[i + 1 for i in range(len(TIMES))], minor_ticks=[])
        xa.major_label_overrides = {i + 1: t for i, t in enumerate(TIMES)}
        if name == "Gemella":
            xa.axis_label = X_TITLE
            xa.axis_label_standoff = 1

    # strip
    p.quad(left=[0.4], right=[4.6], bottom=[y1], top=[ys], fill_color=STRIP_FILL,
           line_color=BORDER, line_width=1.4)
    p.text(x=[2.5], y=[(y1 + ys) / 2], text=[name], text_align="center", text_baseline="middle",
           text_font=value(FONT), text_font_size="18.5px", text_color="#1a1a1a")

    # boxes
    for g in range(2):
        bx = boxes[g]
        xs = [i + 1 + DODGE[g] for i in range(len(TIMES))]
        src = ColumnDataSource(dict(
            x=xs, xl=[x - BOX_W / 2 for x in xs], xr=[x + BOX_W / 2 for x in xs],
            lo=[b[0] for b in bx], q1=[b[1] for b in bx], med=[b[2] for b in bx],
            q3=[b[3] for b in bx], hi=[b[4] for b in bx]))
        p.segment(x0="x", y0="lo", x1="x", y1="q1", source=src, line_color=EDGE, line_width=1.4)
        p.segment(x0="x", y0="q3", x1="x", y1="hi", source=src, line_color=EDGE, line_width=1.4)
        p.vbar(x="x", width=BOX_W, bottom="q1", top="q3", source=src,
               fill_color=FILL[g], line_color=EDGE, line_width=1.5)
        p.segment(x0="xl", y0="med", x1="xr", y1="med", source=src, line_color=EDGE, line_width=3.5)
    # trend lines through medians
    for g in range(2):
        bx = boxes[g]
        p.line(x=[i + 1 + DODGE[g] for i in range(len(TIMES))], y=[b[2] for b in bx],
               line_color=TREND[g], line_width=2)
    # points
    for g in range(2):
        xs, yv = [], []
        for i, tp in enumerate(pts[g]):
            for k, v in enumerate(tp):
                xs.append(i + 1 + DODGE[g] + JIT[k % len(JIT)])
                yv.append(v)
        p.scatter(x=xs, y=yv, size=8.8, fill_color=DOT[g], line_color=DOT[g], line_width=0.5)
    # significance bracket
    for (_, ti, yb, lab) in sig:
        x0, x1 = ti + DODGE[0], ti + DODGE[1]
        tick = 0.02 * (hi - lo)
        p.segment(x0=[x0, x0, x1], y0=[yb, yb, yb], x1=[x1, x0, x1], y1=[yb, yb - tick, yb - tick],
                  line_color=EDGE, line_width=1.2)
        p.text(x=[ti], y=[yb], text=[lab], text_align="center", text_baseline="bottom",
               text_font=value(FONT), text_font_size="16px", text_color="#1a1a1a")
    return p


def make_legend(c, height):
    lg = figure(frame_width=W, frame_height=height, x_range=Range1d(0, W), y_range=Range1d(height, 0),
                min_border_left=COL_L[c], min_border_right=COL_R[c], min_border_top=0, min_border_bottom=0,
                toolbar_location=None, output_backend="svg",
                x_axis_location=None, y_axis_location=None, title_location=None)
    lg.grid.visible = False
    lg.outline_line_color = None
    lg.background_fill_color = "white"
    lg.border_fill_color = "white"
    kx, ky0, dy = 47, 81, 32
    for g, lab in enumerate(GROUPS):
        ky = ky0 + g * dy
        lg.segment(x0=[kx], y0=[ky - 14], x1=[kx], y1=[ky + 14], line_color=EDGE, line_width=1.4)
        lg.rect(x=[kx], y=[ky], width=[25], height=[17], fill_color=FILL[g], line_color=EDGE, line_width=1.5)
        lg.segment(x0=[kx - 12.5], y0=[ky], x1=[kx + 12.5], y1=[ky], line_color=TREND[g], line_width=2)
        lg.scatter(x=[kx], y=[ky], size=9, fill_color=DOT[g], line_color=DOT[g])
        lg.text(x=[kx + 24], y=[ky], text=[lab], text_align="left", text_baseline="middle",
                text_font=value("Open Sans"), text_font_size="22.5px", text_color="#231f20")
    return lg


cols = [[] for _ in range(NCOL)]
for idx, spec in enumerate(PANELS):
    r, c = divmod(idx, NCOL)
    cols[c].append(make_panel(idx, spec))
cols[NCOL - 1].append(make_legend(NCOL - 1, 200))

layout = row(*[column(*cc, spacing=0) for cc in cols], spacing=0)

with open("out.html", "w") as f:
    f.write(file_html(layout, INLINE, title="Abundance (CLR) by time point"))
